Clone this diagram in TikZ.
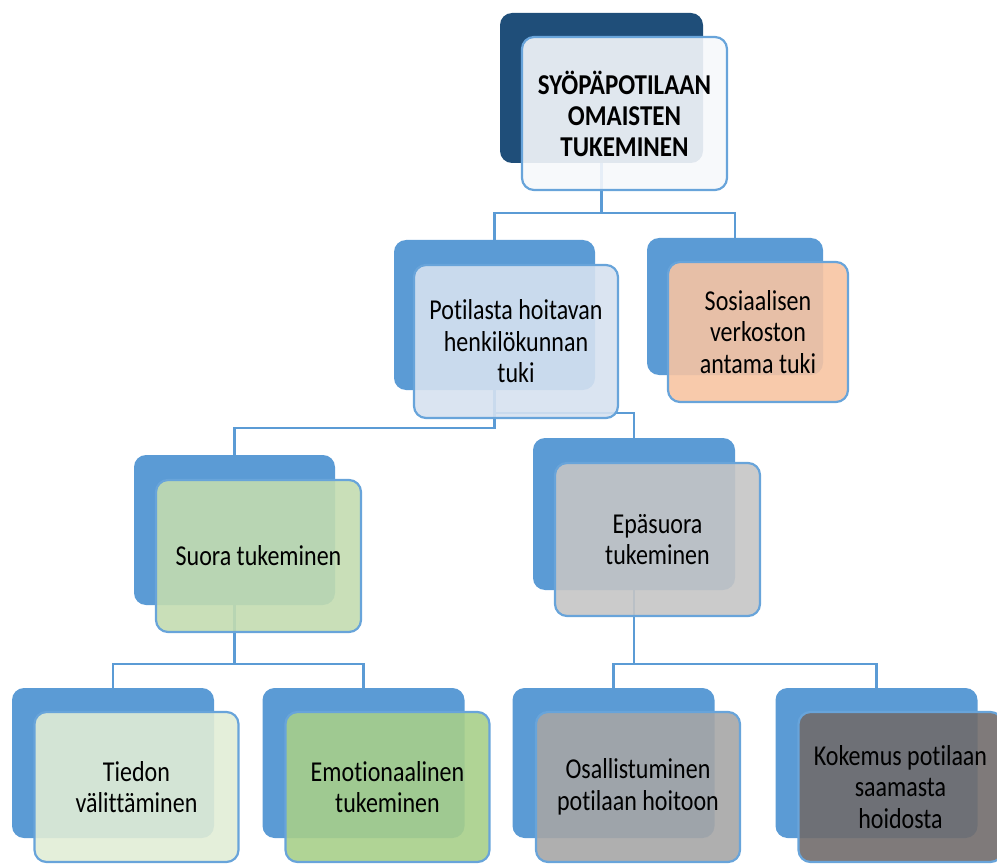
\documentclass[tikz,border=0pt]{standalone}
\usepackage{fontspec}
\setmainfont{Carlito}[Ligatures={NoCommon}]
\usepackage{graphicx}
\definecolor{navy}{RGB}{31,78,121}
\definecolor{accent}{RGB}{91,155,213}
\definecolor{rim}{RGB}{104,164,218}
\definecolor{cTop}{RGB}{246,248,251}
\definecolor{cPot}{RGB}{214,225,240}
\definecolor{cSos}{RGB}{247,196,162}
\definecolor{cSuo}{RGB}{195,220,176}
\definecolor{cEpa}{RGB}{197,197,197}
\definecolor{cTie}{RGB}{225,237,214}
\definecolor{cEmo}{RGB}{167,207,138}
\definecolor{cOsa}{RGB}{166,166,166}
\definecolor{cKok}{RGB}{113,108,108}
\newcommand\tl[1]{\scalebox{1}[1.2]{#1}}
\newcommand\tb[1]{\scalebox{1}[1.15]{#1}}
\tikzset{
  backbox/.style={rounded corners=12pt, fill=accent, draw=none, inner sep=0pt,
    minimum width=202pt, minimum height=150pt},
  frontbox/.style={rounded corners=12pt, draw=rim, line width=2.2pt, fill opacity=0.9,
    text opacity=1, inner sep=0pt, minimum width=204pt, minimum height=152pt,
    align=center, font=\fontsize{24}{31.5}\selectfont},
  conn/.style={draw=accent, line width=2.4pt}
}
\begin{document}
\begin{tikzpicture}[x=1pt,y=-1pt]
\useasboundingbox (0,0) rectangle (997,864);
% back boxes
\node[backbox, fill=navy, minimum width=203pt] (b0) at (601.5,88) {};
\node[backbox, minimum width=201pt] (b1) at (494.5,315) {};
\node[backbox, minimum width=176pt, minimum height=137pt] (b2) at (735,306.5) {};
\node[backbox, minimum width=201pt] (b3) at (234.5,530) {};
\node[backbox, minimum height=152pt] (b4) at (634,514) {};
\node[backbox] (b5) at (113,763) {};
\node[backbox] (b6) at (363.5,763) {};
\node[backbox] (b7) at (613.5,763) {};
\node[backbox] (b8) at (876.5,763) {};
% connectors
\draw[conn] (b0.south) -- ++(0,50) -| (b1.north);
\draw[conn] (b0.south) -- ++(0,50) -| (b2.north);
\draw[conn] (b1.south) -- ++(0,38) -| (b3.north);
\draw[conn] (b1.south) -- ++(0,23) -| (b4.north);
\draw[conn] (b3.south) -- ++(0,59) -| (b5.north);
\draw[conn] (b3.south) -- ++(0,59) -| (b6.north);
\draw[conn] (b4.south) -- ++(0,74) -| (b7.north);
\draw[conn] (b4.south) -- ++(0,74) -| (b8.north);
% front boxes
\node[frontbox, fill=cTop, minimum width=205pt, minimum height=153pt, font=\fontsize{25}{31}\selectfont\bfseries] (f0) at (624.5,113.5)
  {\tb{SYÖPÄPOTILAAN}\\\tb{OMAISTEN}\\\tb{TUKEMINEN}};
\node[frontbox, fill=cPot, minimum height=153pt] (f1) at (516,341.5)
  {\tl{Potilasta hoitavan}\\\tl{henkilökunnan}\\\tl{tuki}};
\node[frontbox, fill=cSos, minimum width=180pt, minimum height=140pt] (f2) at (758,332)
  {\tl{Sosiaalisen}\\\tl{verkoston}\\\tl{antama tuki}};
\node[frontbox, fill=cSuo, minimum width=205pt] (f3) at (258.5,556)
  {\tl{Suora tukeminen}};
\node[frontbox, fill=cEpa, minimum width=205pt, minimum height=153pt] (f4) at (657.5,539.5)
  {\tl{Epäsuora}\\\tl{tukeminen}};
\node[frontbox, fill=cTie, minimum height=150pt] (f5) at (136.5,787)
  {\tl{Tiedon}\\\tl{välittäminen}};
\node[frontbox, fill=cEmo, minimum height=150pt] (f6) at (387.5,787)
  {\tl{Emotionaalinen}\\\tl{tukeminen}};
\node[frontbox, fill=cOsa, minimum height=150pt] (f7) at (638,787)
  {\tl{Osallistuminen}\\\tl{potilaan hoitoon}};
\node[frontbox, fill=cKok, minimum height=150pt] (f8) at (900.5,787)
  {\tl{Kokemus potilaan}\\\tl{saamasta}\\\tl{hoidosta}};
\end{tikzpicture}
\end{document}
